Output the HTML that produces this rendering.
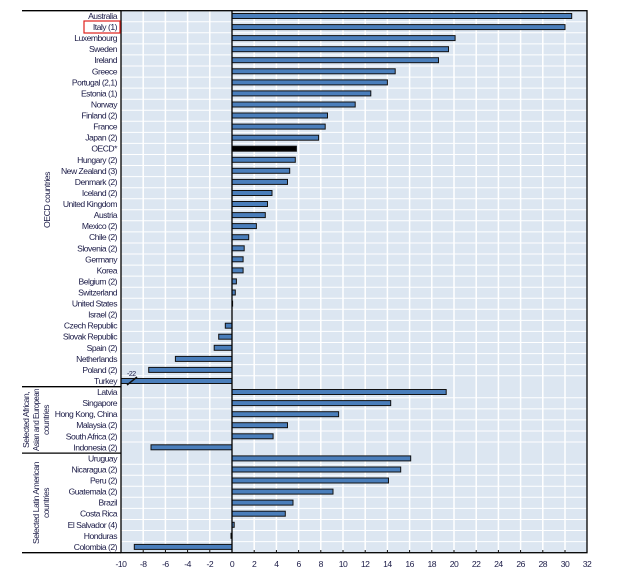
<!DOCTYPE html>
<html><head><meta charset="utf-8"><style>
body{margin:0;background:#fff}
text{font-family:"Liberation Sans",sans-serif;font-size:8.6px;fill:#1a1a46;letter-spacing:-0.5px}
</style></head><body>
<svg width="623" height="575" xmlns="http://www.w3.org/2000/svg">
<rect x="121" y="10.7" width="466" height="542" fill="#dce6f1"/>
<g stroke="#fff" stroke-width="1.5">
<line x1="143.2" y1="11" x2="143.2" y2="552"/><line x1="165.4" y1="11" x2="165.4" y2="552"/><line x1="187.6" y1="11" x2="187.6" y2="552"/><line x1="209.8" y1="11" x2="209.8" y2="552"/><line x1="254.2" y1="11" x2="254.2" y2="552"/><line x1="276.4" y1="11" x2="276.4" y2="552"/><line x1="298.6" y1="11" x2="298.6" y2="552"/><line x1="320.8" y1="11" x2="320.8" y2="552"/><line x1="343" y1="11" x2="343" y2="552"/><line x1="365.2" y1="11" x2="365.2" y2="552"/><line x1="387.4" y1="11" x2="387.4" y2="552"/><line x1="409.6" y1="11" x2="409.6" y2="552"/><line x1="431.8" y1="11" x2="431.8" y2="552"/><line x1="454" y1="11" x2="454" y2="552"/><line x1="476.2" y1="11" x2="476.2" y2="552"/><line x1="498.4" y1="11" x2="498.4" y2="552"/><line x1="520.6" y1="11" x2="520.6" y2="552"/><line x1="542.8" y1="11" x2="542.8" y2="552"/><line x1="565" y1="11" x2="565" y2="552"/>
</g>
<g stroke="#fff" stroke-width="1">
<line x1="121" y1="21.8" x2="587" y2="21.8"/><line x1="121" y1="32.8" x2="587" y2="32.8"/><line x1="121" y1="43.9" x2="587" y2="43.9"/><line x1="121" y1="54.9" x2="587" y2="54.9"/><line x1="121" y1="66" x2="587" y2="66"/><line x1="121" y1="77.1" x2="587" y2="77.1"/><line x1="121" y1="88.1" x2="587" y2="88.1"/><line x1="121" y1="99.2" x2="587" y2="99.2"/><line x1="121" y1="110.2" x2="587" y2="110.2"/><line x1="121" y1="121.3" x2="587" y2="121.3"/><line x1="121" y1="132.4" x2="587" y2="132.4"/><line x1="121" y1="143.4" x2="587" y2="143.4"/><line x1="121" y1="154.5" x2="587" y2="154.5"/><line x1="121" y1="165.5" x2="587" y2="165.5"/><line x1="121" y1="176.6" x2="587" y2="176.6"/><line x1="121" y1="187.7" x2="587" y2="187.7"/><line x1="121" y1="198.7" x2="587" y2="198.7"/><line x1="121" y1="209.8" x2="587" y2="209.8"/><line x1="121" y1="220.8" x2="587" y2="220.8"/><line x1="121" y1="231.9" x2="587" y2="231.9"/><line x1="121" y1="243" x2="587" y2="243"/><line x1="121" y1="254" x2="587" y2="254"/><line x1="121" y1="265.1" x2="587" y2="265.1"/><line x1="121" y1="276.1" x2="587" y2="276.1"/><line x1="121" y1="287.2" x2="587" y2="287.2"/><line x1="121" y1="298.3" x2="587" y2="298.3"/><line x1="121" y1="309.3" x2="587" y2="309.3"/><line x1="121" y1="320.4" x2="587" y2="320.4"/><line x1="121" y1="331.4" x2="587" y2="331.4"/><line x1="121" y1="342.5" x2="587" y2="342.5"/><line x1="121" y1="353.6" x2="587" y2="353.6"/><line x1="121" y1="364.6" x2="587" y2="364.6"/><line x1="121" y1="375.7" x2="587" y2="375.7"/><line x1="121" y1="397.8" x2="587" y2="397.8"/><line x1="121" y1="408.9" x2="587" y2="408.9"/><line x1="121" y1="419.9" x2="587" y2="419.9"/><line x1="121" y1="431" x2="587" y2="431"/><line x1="121" y1="442" x2="587" y2="442"/><line x1="121" y1="464.2" x2="587" y2="464.2"/><line x1="121" y1="475.2" x2="587" y2="475.2"/><line x1="121" y1="486.3" x2="587" y2="486.3"/><line x1="121" y1="497.3" x2="587" y2="497.3"/><line x1="121" y1="508.4" x2="587" y2="508.4"/><line x1="121" y1="519.5" x2="587" y2="519.5"/><line x1="121" y1="530.5" x2="587" y2="530.5"/><line x1="121" y1="541.6" x2="587" y2="541.6"/>
</g>
<g fill="#4a7ebb" stroke="#111" stroke-width="1">
<rect x="232" y="13.5" width="339.7" height="5"/>
<rect x="232" y="24.6" width="333" height="5"/>
<rect x="232" y="35.6" width="223.1" height="5"/>
<rect x="232" y="46.7" width="216.5" height="5"/>
<rect x="232" y="57.7" width="206.5" height="5"/>
<rect x="232" y="68.8" width="163.2" height="5"/>
<rect x="232" y="79.9" width="155.4" height="5"/>
<rect x="232" y="90.9" width="138.8" height="5"/>
<rect x="232" y="102" width="123.2" height="5"/>
<rect x="232" y="113" width="95.5" height="5"/>
<rect x="232" y="124.1" width="93.2" height="5"/>
<rect x="232" y="135.2" width="86.6" height="5"/>
<rect x="232" y="146.2" width="64.4" height="5" fill="#000"/>
<rect x="232" y="157.3" width="63.3" height="5"/>
<rect x="232" y="168.3" width="57.7" height="5"/>
<rect x="232" y="179.4" width="55.5" height="5"/>
<rect x="232" y="190.5" width="40" height="5"/>
<rect x="232" y="201.5" width="35.5" height="5"/>
<rect x="232" y="212.6" width="33.3" height="5"/>
<rect x="232" y="223.6" width="24.4" height="5"/>
<rect x="232" y="234.7" width="16.7" height="5"/>
<rect x="232" y="245.8" width="12.2" height="5"/>
<rect x="232" y="256.8" width="11.1" height="5"/>
<rect x="232" y="267.9" width="11.1" height="5"/>
<rect x="232" y="278.9" width="4.4" height="5"/>
<rect x="232" y="290" width="3.3" height="5"/>
<rect x="232" y="301.1" width="0.6" height="5"/>
<rect x="225.3" y="323.2" width="6.7" height="5"/>
<rect x="218.7" y="334.2" width="13.3" height="5"/>
<rect x="214.2" y="345.3" width="17.8" height="5"/>
<rect x="175.4" y="356.4" width="56.6" height="5"/>
<rect x="148.7" y="367.4" width="83.3" height="5"/>
<rect x="121" y="378.5" width="111" height="5"/>
<rect x="232" y="389.5" width="214.2" height="5"/>
<rect x="232" y="400.6" width="158.7" height="5"/>
<rect x="232" y="411.7" width="106.6" height="5"/>
<rect x="232" y="422.7" width="55.5" height="5"/>
<rect x="232" y="433.8" width="41.1" height="5"/>
<rect x="151" y="444.8" width="81" height="5"/>
<rect x="232" y="455.9" width="178.7" height="5"/>
<rect x="232" y="467" width="168.7" height="5"/>
<rect x="232" y="478" width="156.5" height="5"/>
<rect x="232" y="489.1" width="101" height="5"/>
<rect x="232" y="500.1" width="61" height="5"/>
<rect x="232" y="511.2" width="53.3" height="5"/>
<rect x="232" y="522.3" width="2.2" height="5"/>
<rect x="231" y="533.3" width="1" height="5"/>
<rect x="134.3" y="544.4" width="97.7" height="5"/>
</g>
<line x1="127" y1="385" x2="137" y2="377" stroke="#111" stroke-width="1.5"/>
<text x="127" y="376" style="font-size:7px">-22</text>
<line x1="232" y1="10.7" x2="232" y2="552.7" stroke="#000" stroke-width="1.3"/>
<g stroke="#000" stroke-width="1.3" fill="none">
<rect x="121" y="10.7" width="466" height="542"/>
<line x1="22" y1="10.7" x2="121" y2="10.7"/>
<line x1="22" y1="386.7" x2="121" y2="386.7"/>
<line x1="22" y1="453.1" x2="121" y2="453.1"/>
<line x1="22" y1="552.7" x2="121" y2="552.7"/>
</g>
<g stroke="#000" stroke-width="1">
<line x1="143.2" y1="550" x2="143.2" y2="552"/><line x1="165.4" y1="550" x2="165.4" y2="552"/><line x1="187.6" y1="550" x2="187.6" y2="552"/><line x1="209.8" y1="550" x2="209.8" y2="552"/><line x1="254.2" y1="550" x2="254.2" y2="552"/><line x1="276.4" y1="550" x2="276.4" y2="552"/><line x1="298.6" y1="550" x2="298.6" y2="552"/><line x1="320.8" y1="550" x2="320.8" y2="552"/><line x1="343" y1="550" x2="343" y2="552"/><line x1="365.2" y1="550" x2="365.2" y2="552"/><line x1="387.4" y1="550" x2="387.4" y2="552"/><line x1="409.6" y1="550" x2="409.6" y2="552"/><line x1="431.8" y1="550" x2="431.8" y2="552"/><line x1="454" y1="550" x2="454" y2="552"/><line x1="476.2" y1="550" x2="476.2" y2="552"/><line x1="498.4" y1="550" x2="498.4" y2="552"/><line x1="520.6" y1="550" x2="520.6" y2="552"/><line x1="542.8" y1="550" x2="542.8" y2="552"/><line x1="565" y1="550" x2="565" y2="552"/>
</g>
<rect x="84" y="21" width="36" height="12" fill="none" stroke="#e0201b" stroke-width="1.2"/>
<g text-anchor="end">
<text x="117" y="19">Australia</text><text x="117" y="30.1">Italy (1)</text><text x="117" y="41.1">Luxembourg</text><text x="117" y="52.2">Sweden</text><text x="117" y="63.2">Ireland</text><text x="117" y="74.3">Greece</text><text x="117" y="85.4">Portugal (2,1)</text><text x="117" y="96.4">Estonia (1)</text><text x="117" y="107.5">Norway</text><text x="117" y="118.5">Finland (2)</text><text x="117" y="129.6">France</text><text x="117" y="140.7">Japan (2)</text><text x="117" y="151.7">OECD*</text><text x="117" y="162.8">Hungary (2)</text><text x="117" y="173.8">New Zealand (3)</text><text x="117" y="184.9">Denmark (2)</text><text x="117" y="196">Iceland (2)</text><text x="117" y="207">United Kingdom</text><text x="117" y="218.1">Austria</text><text x="117" y="229.1">Mexico (2)</text><text x="117" y="240.2">Chile (2)</text><text x="117" y="251.3">Slovenia (2)</text><text x="117" y="262.3">Germany</text><text x="117" y="273.4">Korea</text><text x="117" y="284.4">Belgium (2)</text><text x="117" y="295.5">Switzerland</text><text x="117" y="306.6">United States</text><text x="117" y="317.6">Israel (2)</text><text x="117" y="328.7">Czech Republic</text><text x="117" y="339.7">Slovak Republic</text><text x="117" y="350.8">Spain (2)</text><text x="117" y="361.9">Netherlands</text><text x="117" y="372.9">Poland (2)</text><text x="117" y="384">Turkey</text><text x="117" y="395">Latvia</text><text x="117" y="406.1">Singapore</text><text x="117" y="417.2">Hong Kong, China</text><text x="117" y="428.2">Malaysia (2)</text><text x="117" y="439.3">South Africa (2)</text><text x="117" y="450.3">Indonesia (2)</text><text x="117" y="461.4">Uruguay</text><text x="117" y="472.5">Nicaragua (2)</text><text x="117" y="483.5">Peru (2)</text><text x="117" y="494.6">Guatemala (2)</text><text x="117" y="505.6">Brazil</text><text x="117" y="516.7">Costa Rica</text><text x="117" y="527.8">El Salvador (4)</text><text x="117" y="538.8">Honduras</text><text x="117" y="549.9">Colombia (2)</text>
</g>
<g text-anchor="middle">
<text transform="translate(50,200) rotate(-90)" textLength="56" lengthAdjust="spacingAndGlyphs">OECD countries</text>
<text transform="translate(29,420) rotate(-90)" textLength="56" lengthAdjust="spacingAndGlyphs">Selected African,</text>
<text transform="translate(39,420) rotate(-90)" textLength="62" lengthAdjust="spacingAndGlyphs">Asian and European</text>
<text transform="translate(49,420) rotate(-90)" textLength="30" lengthAdjust="spacingAndGlyphs">countries</text>
<text transform="translate(39,503) rotate(-90)" textLength="82" lengthAdjust="spacingAndGlyphs">Selected Latin American</text>
<text transform="translate(49,503) rotate(-90)" textLength="30" lengthAdjust="spacingAndGlyphs">countries</text>
<text x="121" y="567">-10</text><text x="143.2" y="567">-8</text><text x="165.4" y="567">-6</text><text x="187.6" y="567">-4</text><text x="209.8" y="567">-2</text><text x="232" y="567">0</text><text x="254.2" y="567">2</text><text x="276.4" y="567">4</text><text x="298.6" y="567">6</text><text x="320.8" y="567">8</text><text x="343" y="567">10</text><text x="365.2" y="567">12</text><text x="387.4" y="567">14</text><text x="409.6" y="567">16</text><text x="431.8" y="567">18</text><text x="454" y="567">20</text><text x="476.2" y="567">22</text><text x="498.4" y="567">24</text><text x="520.6" y="567">26</text><text x="542.8" y="567">28</text><text x="565" y="567">30</text><text x="587" y="567">32</text>
</g>
</svg>
</body></html>
